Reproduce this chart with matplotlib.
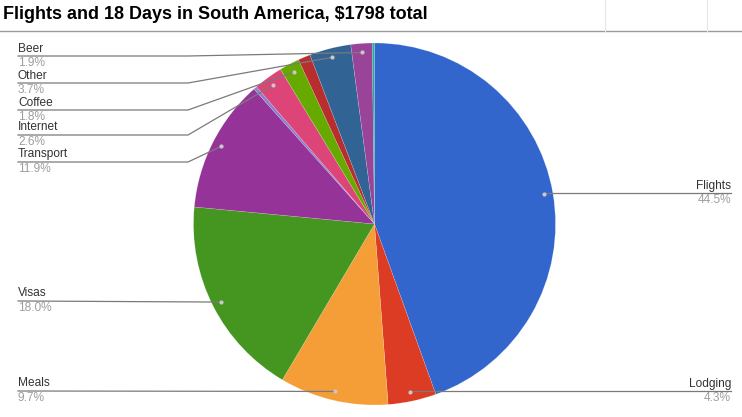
import matplotlib
matplotlib.use("Agg")
import matplotlib.pyplot as plt
import numpy as np

title = "Flights and 18 Days in South America, $1798 total"
categories = ["Flights", "Lodging", "Meals", "Visas", "Transport", "Misc",
              "Internet", "Coffee", "Souvenirs", "Other", "Beer", "Laundry"]
values = [44.5, 4.3, 9.7, 18.0, 11.9, 0.3, 2.6, 1.8, 1.1, 3.7, 1.9, 0.2]
shown = ["Flights", "Lodging", "Meals", "Visas", "Transport", "Internet",
         "Coffee", "Other", "Beer"]
colors = ["#3366cc", "#dc3b24", "#f59e38", "#449620", "#963399", "#8a7fd0",
          "#dd4477", "#66aa00", "#b82e2e", "#316395", "#994499", "#22aa99"]

W, H = 742, 417
fig = plt.figure(figsize=(W / 100, H / 100), dpi=100)
ax = fig.add_axes([0, 0, 1, 1])

cx, cy, R = 374.5, 224.0, 181.0
# y-down coordinate system: counterclock=True with startangle=-90 gives clockwise from top
wedges, _ = ax.pie(values, colors=colors, center=(cx, cy), radius=R,
                   startangle=-90, counterclock=True, frame=False,
                   wedgeprops=dict(linewidth=0.3, edgecolor="#ffffff55"))
ax.set_xlim(0, W)
ax.set_ylim(H, 0)
ax.set_aspect("auto")
ax.axis("off")

font = "Liberation Sans"
fs = 8.6
line_c = "#7a7a7a"
name_c = "#333333"
pct_c = "#9e9e9e"

# label line y positions (layout)
left_y = {"Beer": 56, "Other": 83, "Coffee": 110, "Internet": 135,
          "Transport": 162, "Visas": 301, "Meals": 391}
right_y = {"Flights": 193, "Lodging": 391}

total = sum(values)
cum = 0.0
mids = {}
for c, v in zip(categories, values):
    mids[c] = (cum + v / 2) / total * 360.0
    cum += v

for c in shown:
    a = np.deg2rad(mids[c])
    rho = 0.95 * R
    dx, dy = cx + rho * np.sin(a), cy - rho * np.cos(a)
    ax.plot(dx, dy, "o", ms=3.0, color="#c8c8c8", mec="none", zorder=5)
    pct = f"{values[categories.index(c)]:.1f}%"
    if c in right_y:
        y = right_y[c]
        ax.plot([dx, 731], [y, y], color=line_c, lw=0.9, zorder=4)
        ax.text(731, y - 1.5, c, ha="right", va="bottom", fontsize=fs,
                family=font, color=name_c)
        ax.text(731, y + 1, pct, ha="right", va="top", fontsize=fs,
                family=font, color=pct_c)
    else:
        y = left_y[c]
        if abs(dy - y) < 3:
            ax.plot([18, dx], [y, dy], color=line_c, lw=0.9, zorder=4)
        else:
            ax.plot([18, 188, dx], [y, y, dy], color=line_c, lw=0.9, zorder=4)
        ax.text(18, y - 1.5, c, ha="left", va="bottom", fontsize=fs,
                family=font, color=name_c)
        ax.text(18, y + 1, pct, ha="left", va="top", fontsize=fs,
                family=font, color=pct_c)

# title area like a spreadsheet cell
ax.text(3, 14, title, ha="left", va="center", fontsize=13, fontweight="bold",
        family=font, color="#000000")
ax.plot([0, W], [31, 31], color="#9a9a9a", lw=1.0)
for x in (605, 707):
    ax.plot([x, x], [0, 31], color="#e6e6e6", lw=0.8)

fig.savefig("out.png", dpi=100)
